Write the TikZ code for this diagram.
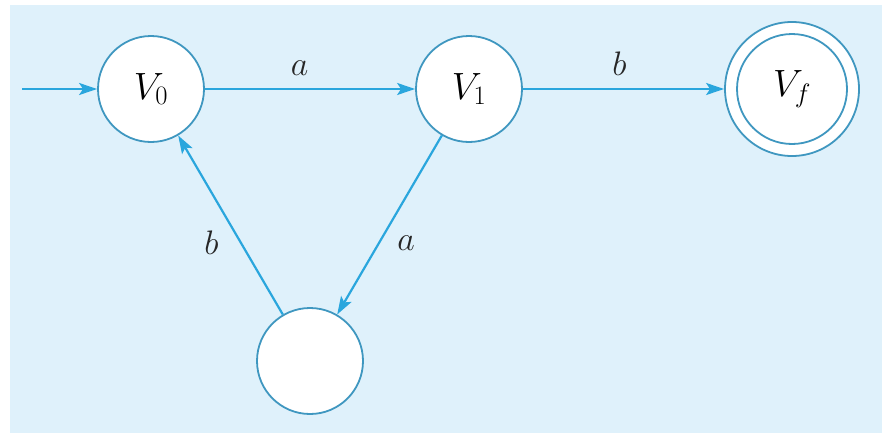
\RequirePackage{fix-cm}
\documentclass[tikz,border=0pt]{standalone}
\usetikzlibrary{arrows.meta}
\definecolor{bgblue}{HTML}{DFF1FB}
\definecolor{edgeblue}{HTML}{2AA6DD}
\definecolor{ringblue}{HTML}{3F97C0}
\begin{document}
\begin{tikzpicture}[x=1pt,y=-1pt,
  state/.style={circle,draw=ringblue,line width=1.8pt,fill=white,minimum size=106pt,inner sep=0pt,font=\fontsize{38}{44}\selectfont},
  trans/.style={draw=edgeblue,line width=2.2pt,-{Stealth[length=18pt,width=12pt,inset=4pt]}},
  lbl/.style={font=\fontsize{34}{40}\selectfont,text=black!85}]
\useasboundingbox (0,0) rectangle (882,439);
\fill[bgblue] (10,5) rectangle (882,433);
\node[state] (v0) at (151,89) {$V_0$};
\node[state] (v1) at (469,89) {$V_1$};
\node[state,minimum size=134pt] (vf) at (792,89) {};
\node[state,minimum size=110pt] (vfi) at (792,89) {$V_f$};
\node[state] (q) at (310,361) {};
\coordinate (start) at (22,89);
\draw[trans] (start) -- (v0);
\draw[trans] (v0) -- node[lbl,above=9pt,pos=0.45] {$a$} (v1);
\draw[trans] (v1) -- node[lbl,above=9pt,pos=0.48] {$b$} (vf);
\draw[trans] (v1) -- node[lbl,right=14pt,pos=0.6] {$a$} (q);
\draw[trans] (q) -- node[lbl,left=18pt,pos=0.4] {$b$} (v0);
\end{tikzpicture}
\end{document}
